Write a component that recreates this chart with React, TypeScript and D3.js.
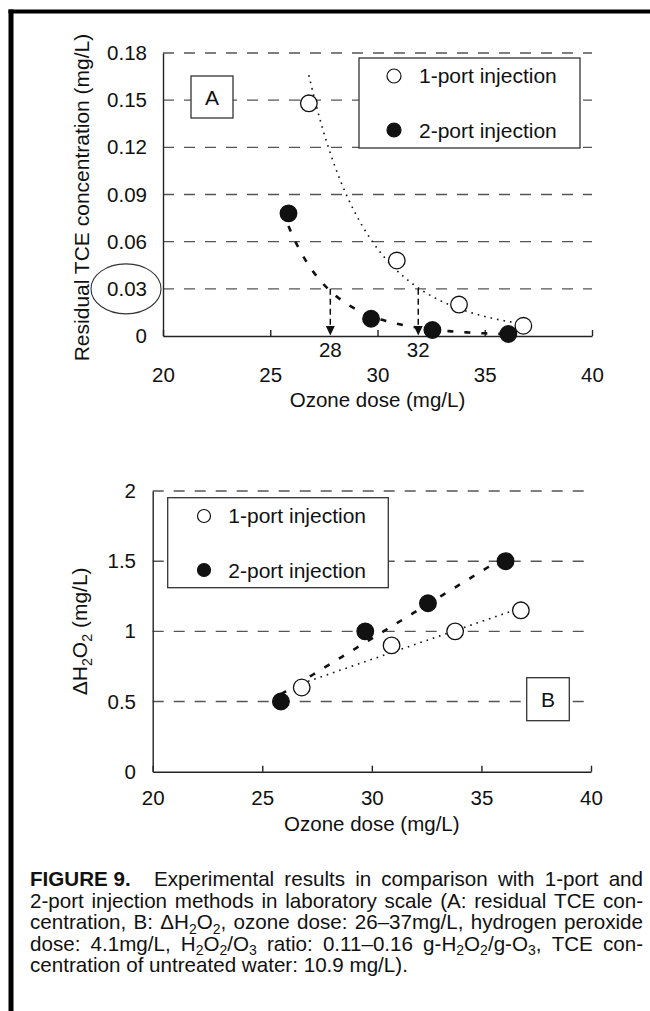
import React, { useEffect, useRef } from "react";
import * as d3 from "d3";

// ---------- data ----------
const xTickValues = [20, 25, 30, 35, 40];
const seriesNames = ["1-port injection", "2-port injection"];
const doseOnePort = [26.8, 30.9, 33.8, 36.8];
const doseTwoPort = [25.85, 29.7, 32.56, 36.1];
const tceOnePort = [0.148, 0.048, 0.02, 0.0065];
const tceTwoPort = [0.078, 0.011, 0.0038, 0.0013];
const h2o2OnePort = [0.6, 0.9, 1.0, 1.15];
const h2o2TwoPort = [0.5, 1.0, 1.2, 1.5];
const tceTickValues = [0, 0.03, 0.06, 0.09, 0.12, 0.15, 0.18];
const tceTickLabels = ["0", "0.03", "0.06", "0.09", "0.12", "0.15", "0.18"];
const h2o2TickValues = [0, 0.5, 1, 1.5, 2];
const h2o2TickLabels = ["0", "0.5", "1", "1.5", "2"];
const targetTCE = 0.03;
const requiredDose = [27.8, 31.9];
const requiredDoseLabels = ["28", "32"];
const captionLead = "FIGURE 9.";
const captionLines = [
  "Experimental results in comparison with 1-port and",
  "2-port injection methods in laboratory scale (A: residual TCE con-",
  "centration, B: ΔH_2O_2, ozone dose: 26–37mg/L, hydrogen peroxide",
  "dose: 4.1mg/L, H_2O_2/O_3 ratio: 0.11–0.16 g-H_2O_2/g-O_3, TCE con-",
  "centration of untreated water: 10.9 mg/L).",
];

const FONT = "'Liberation Sans', Arial, Helvetica, sans-serif";
const FS = 20.5;

function appendRich(text: any, str: string, size: number) {
  const parts = str.split(/(_\d)/);
  let down = false;
  const shift = size * 0.22;
  parts.forEach((p) => {
    if (!p) return;
    if (p.startsWith("_")) {
      const t = text.append("tspan").attr("font-size", size * 0.68).text(p.slice(1));
      if (!down) t.attr("dy", shift);
      down = true;
    } else {
      const t = text.append("tspan").text(p);
      if (down) t.attr("dy", -shift);
      down = false;
    }
  });
}

function powerFit(xs: number[], ys: number[]) {
  const lx = xs.map(Math.log), ly = ys.map(Math.log);
  const mx = d3.mean(lx)!, my = d3.mean(ly)!;
  const sxy = d3.sum(lx.map((v, i) => (v - mx) * (ly[i] - my)));
  const sxx = d3.sum(lx.map((v) => (v - mx) * (v - mx)));
  const b = sxy / sxx;
  const a = my - b * mx;
  return (x: number) => Math.exp(a + b * Math.log(x));
}

function linearFit(xs: number[], ys: number[]) {
  const mx = d3.mean(xs)!, my = d3.mean(ys)!;
  const sxy = d3.sum(xs.map((v, i) => (v - mx) * (ys[i] - my)));
  const sxx = d3.sum(xs.map((v) => (v - mx) * (v - mx)));
  const b = sxy / sxx;
  return (x: number) => my + b * (x - mx);
}

function drawPanel(svg: any, cfg: any) {
  const x = d3.scaleLinear().domain([20, 40]).range([cfg.left, cfg.right]);
  const y = d3.scaleLinear().domain([0, cfg.yMax]).range([cfg.bottom, cfg.top]);
  const g = svg.append("g");

  // gridlines
  g.selectAll("line.grid")
    .data(cfg.yTicks.filter((v: number) => v > 0))
    .join("line")
    .attr("class", "grid")
    .attr("x1", x(20))
    .attr("x2", x(40))
    .attr("y1", (d: number) => y(d))
    .attr("y2", (d: number) => y(d))
    .attr("stroke", "#555")
    .attr("stroke-width", 1.4)
    .attr("stroke-dasharray", "11,10");

  // legend
  const L = cfg.legend;
  g.append("rect")
    .attr("x", L.x).attr("y", L.y).attr("width", L.w).attr("height", L.h)
    .attr("fill", "#fff").attr("stroke", "#333").attr("stroke-width", 1.3);
  seriesNames.forEach((name, i) => {
    g.append("circle")
      .attr("cx", L.cx).attr("cy", L.cy[i]).attr("r", L.r)
      .attr("fill", i === 0 ? "#fff" : "#111")
      .attr("stroke", "#111").attr("stroke-width", 1.2);
    g.append("text")
      .attr("x", L.tx).attr("y", L.ty[i])
      .attr("font-family", FONT).attr("font-size", 21).attr("fill", "#111")
      .text(name);
  });

  // letter box
  const B = cfg.box;
  g.append("rect")
    .attr("x", B.x).attr("y", B.y).attr("width", B.w).attr("height", B.h)
    .attr("fill", "#fff").attr("stroke", "#333").attr("stroke-width", 1.3);
  g.append("text")
    .attr("x", B.x + B.w / 2).attr("y", B.y + B.h / 2 + 7.5)
    .attr("text-anchor", "middle")
    .attr("font-family", FONT).attr("font-size", 21).attr("fill", "#111")
    .text(B.label);

  // x axis
  const xa = g.append("g")
    .attr("transform", `translate(0,${y(0)})`)
    .call(
      d3.axisBottom(x)
        .tickValues(xTickValues)
        .tickSizeInner(-6)
        .tickSizeOuter(0)
        .tickPadding(cfg.xPad)
        .tickFormat(d3.format("d") as any)
    );
  xa.attr("font-family", FONT).attr("font-size", FS);
  xa.select(".domain").attr("stroke", "#222").attr("stroke-width", 1.4);
  xa.selectAll(".tick line").attr("stroke", "#222").attr("stroke-width", 1.4);
  xa.selectAll(".tick text").attr("fill", "#111");

  // y axis
  const ya = g.append("g")
    .attr("transform", `translate(${x(20)},0)`)
    .call(
      d3.axisLeft(y)
        .tickValues(cfg.yTicks)
        .tickSize(0)
        .tickPadding(cfg.yPad)
        .tickFormat(((d: number, i: number) => cfg.yLabels[i]) as any)
    );
  ya.attr("font-family", FONT).attr("font-size", FS);
  ya.select(".domain").attr("stroke", "#222").attr("stroke-width", 1.4);
  ya.selectAll(".tick text").attr("fill", "#111");

  // axis titles
  g.append("text")
    .attr("x", (x(20) + x(40)) / 2).attr("y", cfg.xTitleY)
    .attr("text-anchor", "middle")
    .attr("font-family", FONT).attr("font-size", FS).attr("fill", "#111")
    .text("Ozone dose (mg/L)");
  const yt = g.append("text")
    .attr("transform", `translate(${cfg.yTitleX},${(y(0) + y(cfg.yMax)) / 2 + cfg.yTitleShift}) rotate(-90)`)
    .attr("text-anchor", "middle")
    .attr("font-family", FONT).attr("font-size", 21).attr("fill", "#111");
  appendRich(yt, cfg.yTitle, 21);

  if (cfg.extra) cfg.extra(g, x, y);

  // trend lines
  cfg.series.forEach((s: any, i: number) => {
    const f = cfg.fit(s.xs, s.ys);
    const x0 = d3.min(s.xs)!, x1 = d3.max(s.xs)!;
    const pts = d3.range(0, 101).map((k) => x0 + ((x1 - x0) * k) / 100);
    g.append("path")
      .attr("d", d3.line<number>().x((d) => x(d)).y((d) => y(f(d)))(pts))
      .attr("fill", "none")
      .attr("stroke", "#111")
      .attr("stroke-width", i === 0 ? 1.6 : 2.6)
      .attr("stroke-dasharray", i === 0 ? "1.6,5" : "6,11");
  });

  // markers
  cfg.series.forEach((s: any, i: number) => {
    g.selectAll(`circle.m${i}`)
      .data(s.xs.map((v: number, k: number) => [v, s.ys[k]]))
      .join("circle")
      .attr("class", `m${i}`)
      .attr("cx", (d: number[]) => x(d[0]))
      .attr("cy", (d: number[]) => y(d[1]))
      .attr("r", 8.3)
      .attr("fill", i === 0 ? "#fff" : "#111")
      .attr("stroke", "#111")
      .attr("stroke-width", 1.3);
  });
}

export default function App() {
  const ref = useRef<SVGSVGElement>(null);

  useEffect(() => {
    const svg = d3.select(ref.current);
    svg.selectAll("*").remove();

    // frame
    svg.append("line").attr("x1", 8.5).attr("x2", 650).attr("y1", 11.5).attr("y2", 11.5)
      .attr("stroke", "#000").attr("stroke-width", 4);
    svg.append("line").attr("x1", 11).attr("x2", 11).attr("y1", 9.5).attr("y2", 1011)
      .attr("stroke", "#000").attr("stroke-width", 5);

    // Panel A
    drawPanel(svg, {
      left: 163, right: 592, top: 53, bottom: 336,
      yMax: 0.18, yTicks: tceTickValues, yLabels: tceTickLabels,
      xPad: 31.5, yPad: 16, xTitleY: 407,
      yTitle: "Residual TCE concentration (mg/L)", yTitleX: 89, yTitleShift: 3,
      legend: { x: 359, y: 58, w: 221, h: 90, cx: 394, cy: [76, 130], r: 7, tx: 419, ty: [83, 138] },
      box: { x: 191, y: 76, w: 42, h: 42, label: "A" },
      fit: powerFit,
      series: [
        { xs: doseOnePort, ys: tceOnePort },
        { xs: doseTwoPort, ys: tceTwoPort },
      ],
      extra: (g: any, x: any, y: any) => {
        g.append("ellipse")
          .attr("cx", 126).attr("cy", y(targetTCE))
          .attr("rx", 35).attr("ry", 25)
          .attr("fill", "none").attr("stroke", "#333").attr("stroke-width", 1.1);
        requiredDose.forEach((d, i) => {
          const xp = x(d);
          g.append("line")
            .attr("x1", xp).attr("x2", xp)
            .attr("y1", y(targetTCE)).attr("y2", y(0) - 9)
            .attr("stroke", "#111").attr("stroke-width", 1.5)
            .attr("stroke-dasharray", "6,4");
          g.append("path")
            .attr("d", `M${xp - 4.5},${y(0) - 10} L${xp + 4.5},${y(0) - 10} L${xp},${y(0) - 0.5} Z`)
            .attr("fill", "#111");
          g.append("text")
            .attr("x", xp).attr("y", y(0) + 21)
            .attr("text-anchor", "middle")
            .attr("font-family", FONT).attr("font-size", FS).attr("fill", "#111")
            .text(requiredDoseLabels[i]);
        });
      },
    });

    // Panel B
    drawPanel(svg, {
      left: 152.7, right: 591, top: 491, bottom: 771.7,
      yMax: 2, yTicks: h2o2TickValues, yLabels: h2o2TickLabels,
      xPad: 18.5, yPad: 16.7, xTitleY: 831,
      yTitle: "ΔH_2O_2 (mg/L)", yTitleX: 87, yTitleShift: 0,
      legend: { x: 167.7, y: 497.7, w: 220.6, h: 90, cx: 204, cy: [516, 570], r: 6.5, tx: 228.3, ty: [523, 577.5] },
      box: { x: 526.7, y: 677.7, w: 42.6, h: 43, label: "B" },
      fit: linearFit,
      series: [
        { xs: doseOnePort, ys: h2o2OnePort },
        { xs: doseTwoPort, ys: h2o2TwoPort },
      ],
    });

    // caption (justified)
    const capX0 = 30, capX1 = 643, capFs = 20.6;
    const capBaselines = [886, 907.6, 929.2, 950.8, 972.4];
    const cap = svg.append("g").attr("font-family", FONT).attr("font-size", capFs).attr("fill", "#111");
    captionLines.forEach((line, li) => {
      const words: { text: string; bold: boolean }[] = line.split(" ").map((w) => ({ text: w, bold: false }));
      if (li === 0) words.unshift({ text: captionLead, bold: true });
      const nodes = words.map((w) => {
        const t = cap.append("text").attr("y", capBaselines[li]).attr("font-weight", w.bold ? "bold" : "normal");
        appendRich(t, w.text, capFs);
        return t;
      });
      const widths = nodes.map((n) => (n.node() as SVGTextElement).getComputedTextLength());
      const gapWeights = words.slice(1).map((_, i) => (li === 0 && i === 0 ? 2.3 : 1));
      const last = li === captionLines.length - 1;
      const gap = last ? capFs * 0.278 : Math.max(capFs * 0.2, (capX1 - capX0 - d3.sum(widths)) / d3.sum(gapWeights));
      let xx = capX0;
      nodes.forEach((n, i) => {
        n.attr("x", xx);
        xx += widths[i] + (i < gapWeights.length ? gapWeights[i] * gap : 0);
      });
    });
  }, []);

  return (
    <svg
      ref={ref}
      width={650}
      height={1011}
      style={{ position: "absolute", left: 0, top: 0, display: "block", background: "#fff" }}
    />
  );
}
